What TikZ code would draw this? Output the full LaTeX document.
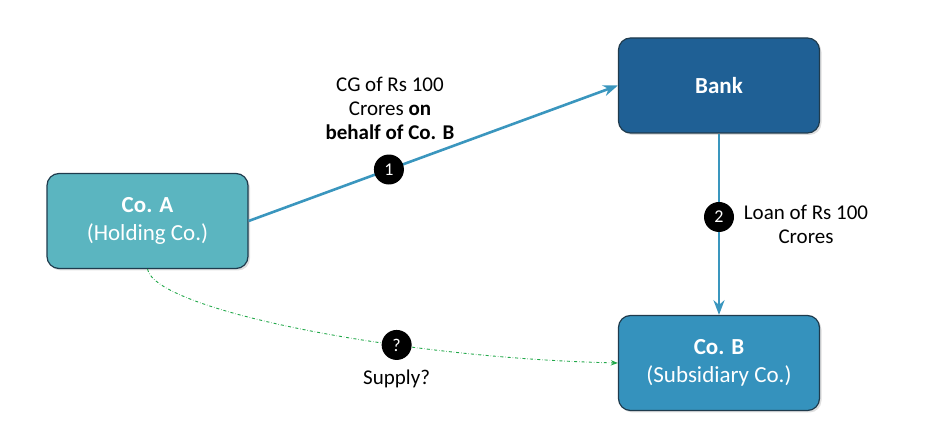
\documentclass[tikz,border=0pt]{standalone}
\usepackage{fontspec}
\setmainfont{Carlito}
\usepackage{xcolor}
\usetikzlibrary{positioning,arrows.meta,shadows}
\definecolor{coA}{HTML}{5BB5C0}
\definecolor{bankblue}{HTML}{1F6095}
\definecolor{coB}{HTML}{3592BD}
\definecolor{edge}{HTML}{1F3B4D}
\definecolor{flow}{HTML}{3A96BE}
\definecolor{supplygreen}{HTML}{22A84A}

\begin{document}
\begin{tikzpicture}[x=1pt,y=-1pt,>={Stealth[]},
  entity/.style={draw=edge,line width=1.2pt,rounded corners=12pt,minimum width=201pt,minimum height=95pt,
    text=white,align=center,font=\fontsize{23}{28}\selectfont,
    drop shadow={opacity=0.25,shadow xshift=2pt,shadow yshift=-2pt}},
  marker/.style={circle,fill=black,text=white,minimum size=30pt,inner sep=0pt,font=\fontsize{18}{18}\selectfont},
  note/.style={align=center,font=\fontsize{21}{24}\selectfont}]
\useasboundingbox (0,0) rectangle (938,443);
% parties
\node[entity,fill=coA] (coa) at (147.5,221) {\textbf{Co. A}\\(Holding Co.)};
\node[entity,fill=bankblue] (bank) at (719,85.5) {\textbf{Bank}};
\node[entity,fill=coB] (cob) at (719,363) {\textbf{Co. B}\\(Subsidiary Co.)};
% flows
\draw[->,flow,line width=2.6pt] (coa.east) -- node[pos=0.38,marker] (m1) {1} (bank.west);
\draw[->,flow,line width=2.6pt] (bank.south) -- node[pos=0.46,marker] (m2) {2} (cob.north);
\draw[->,supplygreen,dash dot,line width=0.9pt] (coa.south) .. controls (155,310) and (400,358) .. node[pos=0.66,marker] (m3) {?} (cob.west);
% labels
\node[note] (cg) at (390,108) {CG of Rs 100\\Crores \textbf{on}\\\textbf{behalf of Co. B}};
\node[note] (loan) at (806,224.5) {Loan of Rs 100\\Crores};
\node[note,below=6pt of m3] (supply) {Supply?};
\end{tikzpicture}
\end{document}
